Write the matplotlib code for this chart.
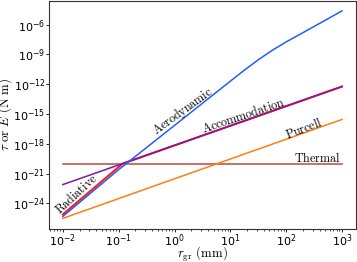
import numpy as np
import matplotlib
matplotlib.use("Agg")
import matplotlib.pyplot as plt

plt.rcParams['mathtext.fontset'] = 'cm'
plt.rcParams['axes.formatter.use_mathtext'] = True

# Data (grain radius in mm, torque/energy in N m)
aero_r = [1e-2, 1e-1, 1e0, 1e1, 10**1.25, 10**1.5, 10**1.75, 1e2, 10**2.5, 1e3]
aero_v = [10**-25.3, 10**-20.6, 10**-16.15, 10**-11.7, 10**-10.6, 10**-9.55,
          10**-8.6, 10**-7.75, 10**-6.2, 10**-4.63]
rad_r = [1e-2, 10**-0.93, 1e3]
rad_v = [10**-25.1, 10**-20.0, 10**-12.24]
acc_r = [1e-2, 1e3]
acc_v = [10**-22.1, 10**-12.24]
pur_r = [1e-2, 1e3]
pur_v = [10**-25.5, 10**-15.55]
th_r = [1e-2, 1e3]
th_v = [10**-20.03, 10**-20.03]

fig = plt.figure(figsize=(3.57, 2.62), dpi=100)
ax = fig.add_axes([0.137, 0.127, 0.86, 0.871])

ax.plot(th_r, th_v, color='#b34a3a', lw=1.1)
ax.plot(pur_r, pur_v, color='#ff7f0e', lw=1.1)
ax.plot(rad_r, rad_v, color='#ff1a1a', lw=1.5)
ax.plot(acc_r, acc_v, color='#7d1b9e', lw=1.1)
ax.plot(aero_r, aero_v, color='#1f5fff', lw=1.1)

ax.set_xscale('log')
ax.set_yscale('log')

fs = 8.7
kw = dict(fontsize=fs, ha='center', va='center', rotation_mode='anchor')
ax.text(10**-1.76, 10**-23.03, r'$\mathrm{Radiative}$', rotation=42.5, **kw)
ax.text(10**0.155, 10**-14.7, r'$\mathrm{Aerodynamic}$', rotation=36, **kw)
ax.text(10**1.227, 10**-15.16, r'$\mathrm{Accommodation}$', rotation=18.6, **kw)
ax.text(10**2.316, 10**-16.42, r'$\mathrm{Purcell}$', rotation=21, **kw)
ax.text(10**2.98, 10**-19.43, r'$\mathrm{Thermal}$', fontsize=fs, ha='right', va='center')

ax.set_xlabel(r'$r_{\rm gr}\ (\mathrm{mm})$', fontsize=9.3)
ax.set_ylabel(r'$\tau\ \mathrm{or}\ E\ (\mathrm{N\ m})$', fontsize=9.3)
ax.xaxis.set_label_coords(0.5, -0.072)
ax.yaxis.set_label_coords(-0.113, 0.5)
ax.tick_params(labelsize=8, length=1.9, width=0.6, pad=0.6)
ax.tick_params(which='minor', length=1.1, width=0.5)
ax.yaxis.set_minor_locator(matplotlib.ticker.NullLocator())
for s in ax.spines.values():
    s.set_color('#333333')
    s.set_linewidth(0.8)

fig.savefig('out.png', dpi=100)
